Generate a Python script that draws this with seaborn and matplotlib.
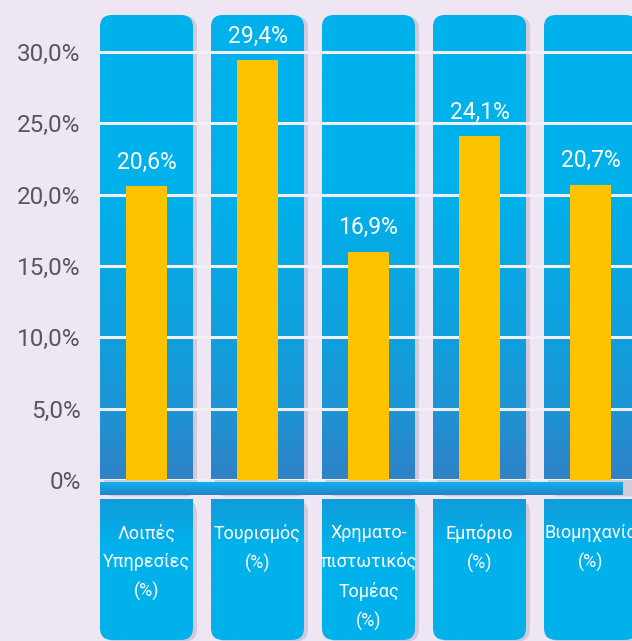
import numpy as np
import seaborn as sns
import matplotlib.pyplot as plt
from matplotlib.patches import FancyBboxPatch
from matplotlib.colors import to_rgb

categories = ["Λοιπές\nΥπηρεσίες\n(%)", "Τουρισμός\n(%)", "Χρηματο-\nπιστωτικός\nΤομέας\n(%)",
              "Εμπόριο\n(%)", "Βιομηχανία\n(%)"]
values = [20.6, 29.4, 16.0, 24.1, 20.7]
value_labels = ["20,6%", "29,4%", "16,9%", "24,1%", "20,7%"]
y_ticks = [0, 5, 10, 15, 20, 25, 30]
y_tick_labels = ["0%", "5,0%", "10,0%", "15,0%", "20,0%", "25,0%", "30,0%"]

BG = "#EEE6F2"
GOLD = "#FDC300"


def vgrad(stops, n=300):
    # vertical gradient, stops are (fraction from top, colour)
    pos = [s[0] for s in stops]
    cols = np.array([to_rgb(s[1]) for s in stops])
    t = np.linspace(0, 1, n)
    arr = np.stack([np.interp(t, pos, cols[:, k]) for k in range(3)], axis=-1)
    return arr[:, None, :]


upper_grad = vgrad([(0, "#00B1EB"), (0.38, "#00B1EB"), (0.7, "#119FDD"), (0.86, "#1E93D4"), (1, "#2F82C6")])
lower_grad = vgrad([(0, "#129CDA"), (0.32, "#00B1EB"), (1, "#00B1EB")])
strip_grad = vgrad([(0, "#0BB5EE"), (1, "#2782C8")])

sns.set_style("white")
plt.rcParams["font.family"] = ["Roboto", "DejaVu Sans"]

fig = plt.figure(figsize=(6.32, 6.41), dpi=100, facecolor=BG)
ax = fig.add_axes([100 / 632, 161 / 641, 532 / 632, 480 / 641])
ax.set_facecolor("none")

sns.barplot(x=categories, y=values, color=GOLD, saturation=1, width=0.37, ax=ax, zorder=3,
            edgecolor="none", linewidth=0)

# rounded blue columns behind the bars
half = 0.419
top = 32.59
rnd = 0.108
asp = 7.78
low_top, low_bot = -1.33, -11.21
strip_top, strip_bot = -0.14, -1.05
box = f"round,pad=0,rounding_size={rnd}"


def add_img(grad, extent, clip, z):
    im = ax.imshow(grad, extent=extent, aspect="auto", zorder=z, interpolation="bilinear")
    if clip is not None:
        im.set_clip_path(clip)
    im.set_clip_box(fig.bbox)
    return im


for i in range(len(categories)):
    x0 = i - half
    for yb, h in [(strip_bot, top - strip_bot), (low_bot, low_top - low_bot)]:
        sh = FancyBboxPatch((x0 + 0.035, yb - 0.1), 2 * half, h, boxstyle=box, mutation_aspect=asp,
                            fc="#D3C9DA", ec="none", zorder=0.05, clip_on=False, transform=ax.transData)
        ax.add_patch(sh)
    up_clip = FancyBboxPatch((x0, -3), 2 * half, top + 3, boxstyle=box, mutation_aspect=asp,
                             transform=ax.transData)
    add_img(upper_grad, [x0, x0 + 2 * half, 0, top], up_clip, 0.1)
    low_clip = FancyBboxPatch((x0, low_bot), 2 * half, 5 - low_bot, boxstyle=box, mutation_aspect=asp,
                              transform=ax.transData)
    add_img(lower_grad, [x0, x0 + 2 * half, low_bot, low_top], low_clip, 0.1)

# horizontal strip under the zero line
add_img(strip_grad, [-half, 4.284, strip_bot, strip_top], None, 0.6)

ax.bar_label(ax.containers[0], labels=value_labels, padding=9, color="white", fontsize=16.5)

ax.set_axisbelow(True)
ax.yaxis.grid(True, color="#F3F0F5", lw=2.2)
ax.xaxis.grid(False)
ax.set_yticks(y_ticks, y_tick_labels)
ax.tick_params(axis="y", length=0, pad=14, labelsize=17.5, labelcolor="#585858")
ax.tick_params(axis="x", length=0, pad=32, labelsize=13, labelcolor="white")
for lab in ax.get_xticklabels():
    lab.set_linespacing(1.72)

for s in ax.spines.values():
    s.set_visible(False)

ax.set_xlim(-half, 4.374)
ax.set_ylim(0, 33.64)
ax.set_xlabel("")
ax.set_ylabel("")

fig.savefig("out.png", dpi=100, facecolor=BG)
